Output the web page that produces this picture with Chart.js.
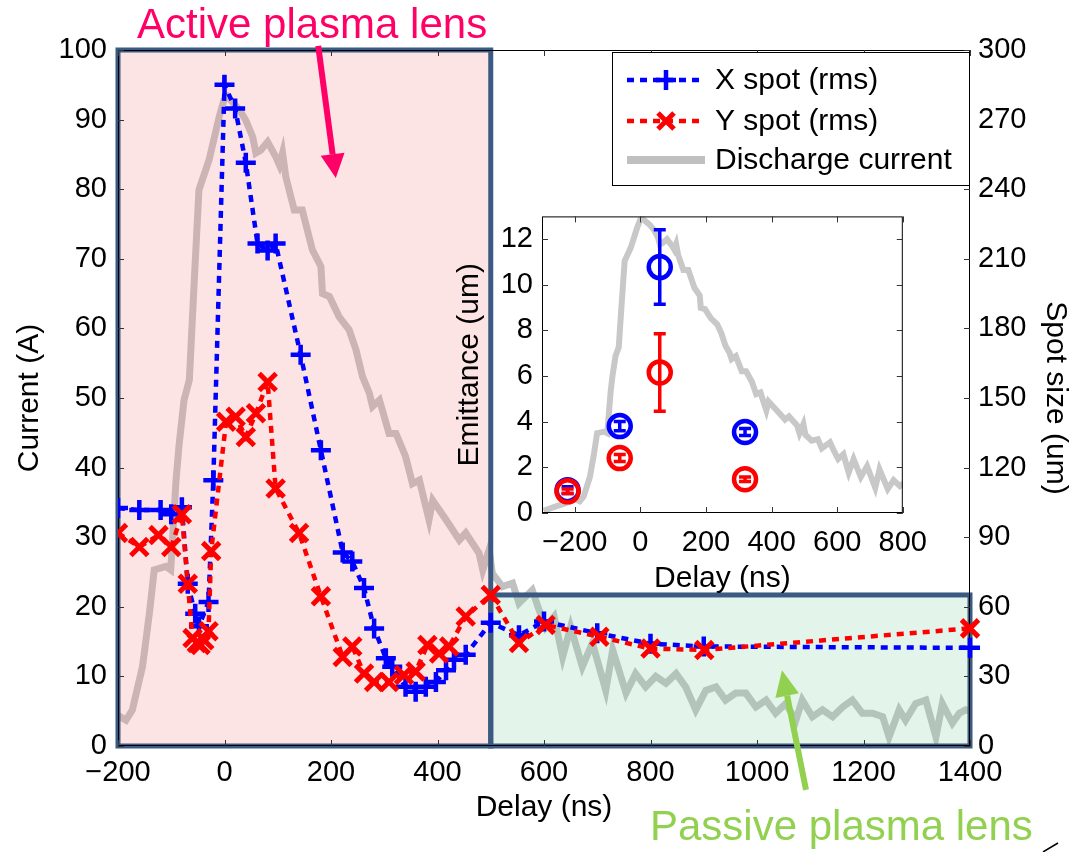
<!DOCTYPE html>
<html>
<head>
<meta charset="utf-8">
<title>Plasma lens delay scan</title>
<script src="https://cdn.jsdelivr.net/npm/chart.js@4.4.1/dist/chart.umd.min.js"></script>
<style>
  body { margin: 0; background: #fff; }
  #wrap { position: relative; width: 1075px; height: 852px; }
  #main { position: absolute; left: 0; top: 0; }
  #inset { position: absolute; left: 420px; top: 190px; }
</style>
</head>
<body>
<div id="wrap">
  <canvas id="main" width="1075" height="852"></canvas>
  <canvas id="inset" width="520" height="410"></canvas>
</div>
<script>
// discharge current trace (ns, A)
const currentDelay = [-295, -260, -230, -200, -185, -173, -154, -141, -132, -110, -101, -91, -85, -76, -66, -57, -48, -29, -10, -1,
  6, 28, 40, 53, 59, 68, 81, 96, 103, 109, 115, 131, 146, 165, 181, 184, 197, 215, 234, 247,
  259, 272, 278, 291, 309, 322, 340, 353, 366, 384, 391, 416, 441, 453, 478, 485, 497, 503, 522, 541,
  553, 578, 591, 603, 619, 635, 650, 672, 691, 716, 729, 754, 772, 791, 810, 829, 848, 866, 885, 904,
  923, 941, 960, 979, 998, 1017, 1035, 1054, 1073, 1085, 1104, 1123, 1142, 1161, 1179, 1198, 1217, 1236, 1248, 1267,
  1279, 1298, 1317, 1336, 1348, 1367, 1380, 1392, 1405];
const currentAmps = [0.7, 2.0, 3.0, 4.4, 3.7, 5.2, 11.4, 19.1, 25.3, 25.8, 25.3, 38.2, 43.5, 49.7, 52.6, 66.5, 79.9, 84.2, 90.4, 92.8,
  93.3, 91.4, 89.9, 87.5, 85.2, 85.6, 86.8, 84.7, 83.5, 85.2, 81.8, 77.0, 77.0, 71.3, 68.9, 65.0, 64.6, 61.7, 59.8, 56.9,
  53.1, 50.7, 48.8, 49.7, 44.9, 44.9, 41.6, 37.7, 38.2, 32.5, 35.3, 32.5, 29.6, 30.6, 27.7, 25.3, 28.2, 24.8, 22.9, 23.4,
  20.5, 22.4, 19.5, 17.1, 18.6, 12.8, 17.1, 11.4, 14.8, 8.0, 13.8, 7.6, 10.4, 8.5, 10.0, 9.0, 10.4, 8.5, 5.2, 8.0,
  8.5, 6.6, 7.6, 7.6, 5.6, 6.6, 4.7, 6.1, 3.7, 6.6, 4.2, 5.2, 4.2, 5.6, 6.6, 4.7, 4.7, 4.2, 1.3, 5.2,
  3.7, 6.1, 6.6, 1.3, 6.1, 3.3, 4.7, 5.2, 4.9];

// rms spot sizes (ns, um)
const xSpotDelay = [-200, -160, -120, -100, -80, -69, -55, -48, -30, -21, 0, 20, 40, 62, 81, 96, 143, 181, 222, 240,
  262, 281, 303, 315, 340, 359, 378, 397, 416, 431, 453, 500, 553, 600, 700, 800, 900, 1400];
const xSpotUm = [102.6, 101.7, 101.7, 99.9, 102.9, 69.9, 57, 51.6, 62.1, 114.6, 285, 274.8, 251.4, 216.6, 213.6, 216.6, 168.6, 127.5, 83.4, 79.5,
  68.1, 50.7, 37.8, 34.2, 25.5, 23.4, 25.5, 27.6, 32.7, 37.2, 39.3, 53.1, 47.7, 53.7, 48.6, 44.1, 42.9, 42.3];
const ySpotDelay = [-200, -160, -124, -100, -80, -69, -60, -52, -45, -38, -30, -25, 3, 21, 40, 59, 81, 96, 140, 181,
  222, 240, 262, 281, 309, 337, 359, 381, 403, 422, 453, 500, 553, 603, 704, 800, 901, 1400];
const ySpotUm = [91.8, 85.8, 90.9, 85.8, 99.9, 69.9, 46.5, 44.4, 43.5, 45.6, 49.5, 84, 139.8, 141.9, 133.2, 143.4, 156.9, 111, 91.8, 64.5,
  38.4, 42.9, 31.2, 27.6, 27.6, 30.6, 32.1, 43.5, 39.9, 42.9, 55.8, 65.1, 44.4, 52.2, 47.1, 42, 41.4, 50.7];

// inset: emittance (ns, um)
const emitDelay = [-222, -63, 59, 319];
const emitX = [1.0, 3.81, 10.78, 3.55];
const emitXErr = [0.15, 0.2, 1.63, 0.15];
const emitY = [0.95, 2.41, 6.16, 1.48];
const emitYErr = [0.1, 0.15, 1.7, 0.1];

// ticks
const delayTicks = [-200, 0, 200, 400, 600, 800, 1000, 1200, 1400];
const currentTicks = [0, 10, 20, 30, 40, 50, 60, 70, 80, 90, 100];
const spotTicks = [0, 30, 60, 90, 120, 150, 180, 210, 240, 270, 300];
const insetDelayTicks = [-200, 0, 200, 400, 600, 800];
const emitTicks = [0, 2, 4, 6, 8, 10, 12];

// lens regions (ns, A)
const activeRange = [-200, 500];
const passiveRange = [500, 1400];
const passiveTop = 21.7;

Chart.defaults.font.family = '"Liberation Sans", Arial, Helvetica, sans-serif';
Chart.defaults.color = "#000";
const FONT = 29;

const zip = (xs, ys) => xs.map((x, i) => ({ x, y: ys[i] }));
const minusFmt = v => (v < 0 ? "\u2212" + Math.abs(v) : String(v));
const setTicks = list => scale => { scale.ticks = list.map(v => ({ value: v })); };

function drawFrame(chart, xId, leftId, rightId, len) {
  const { ctx, chartArea: a, scales } = chart;
  ctx.save();
  ctx.strokeStyle = "#000";
  ctx.lineWidth = 1;
  ctx.strokeRect(a.left + 0.5, a.top + 0.5, a.right - a.left - 1, a.bottom - a.top - 1);
  ctx.strokeStyle = "#333";
  ctx.beginPath();
  scales[xId].ticks.forEach(t => {
    const px = Math.round(scales[xId].getPixelForValue(t.value)) + 0.5;
    ctx.moveTo(px, a.bottom); ctx.lineTo(px, a.bottom - len);
    ctx.moveTo(px, a.top); ctx.lineTo(px, a.top + len);
  });
  scales[leftId].ticks.forEach(t => {
    const py = Math.round(scales[leftId].getPixelForValue(t.value)) + 0.5;
    ctx.moveTo(a.left, py); ctx.lineTo(a.left + len, py);
  });
  scales[rightId].ticks.forEach(t => {
    const py = Math.round(scales[rightId].getPixelForValue(t.value)) + 0.5;
    ctx.moveTo(a.right, py); ctx.lineTo(a.right - len, py);
  });
  ctx.stroke();
  ctx.restore();
}

function arrow(ctx, x1, y1, x2, y2, color, w, headL, headW) {
  const ang = Math.atan2(y2 - y1, x2 - x1);
  const bx = x2 - headL * Math.cos(ang), by = y2 - headL * Math.sin(ang);
  ctx.save();
  ctx.strokeStyle = color;
  ctx.fillStyle = color;
  ctx.lineWidth = w;
  ctx.beginPath(); ctx.moveTo(x1, y1); ctx.lineTo(bx, by); ctx.stroke();
  ctx.beginPath();
  ctx.moveTo(x2, y2);
  ctx.lineTo(bx + headW / 2 * Math.sin(ang), by - headW / 2 * Math.cos(ang));
  ctx.lineTo(bx - headW / 2 * Math.sin(ang), by + headW / 2 * Math.cos(ang));
  ctx.closePath(); ctx.fill();
  ctx.restore();
}

const mainDecor = {
  id: "mainDecor",
  afterDatasetDraw(chart, args) {
    if (args.index !== 0) return;
    const { ctx, scales: { x, y } } = chart;
    drawFrame(chart, "x", "y", "y2", 0);
    const ax0 = x.getPixelForValue(activeRange[0]), ax1 = x.getPixelForValue(activeRange[1]);
    const px0 = x.getPixelForValue(passiveRange[0]), px1 = x.getPixelForValue(passiveRange[1]);
    const top = y.getPixelForValue(100), bot = y.getPixelForValue(0), ptop = y.getPixelForValue(passiveTop);
    ctx.save();
    ctx.fillStyle = "rgba(247,143,143,0.24)";
    ctx.fillRect(ax0, top, ax1 - ax0, bot - top);
    ctx.fillStyle = "rgba(138,209,168,0.24)";
    ctx.fillRect(px0, ptop, px1 - px0, bot - ptop);
    ctx.strokeStyle = "#3b5a82";
    ctx.lineWidth = 5;
    ctx.strokeRect(ax0, top, ax1 - ax0, bot - top);
    ctx.strokeRect(px0, ptop, px1 - px0, bot - ptop);
    ctx.restore();
    drawFrame(chart, "x", "y", "y2", 6);
  },
  afterDraw(chart) {
    const { ctx, scales: { x, y } } = chart;
    const ds = chart.data.datasets;
    // legend box
    ctx.save();
    ctx.fillStyle = "#fff";
    ctx.fillRect(612, 52, 358, 134);
    ctx.strokeStyle = "#000";
    ctx.lineWidth = 1;
    ctx.strokeRect(612.5, 52.5, 357, 133);
    const rows = [[1, 80], [2, 121], [0, 160]];
    rows.forEach(([i, ry]) => {
      const d = ds[i];
      ctx.strokeStyle = d.borderColor;
      ctx.lineWidth = i === 0 ? 8 : d.borderWidth;
      ctx.setLineDash(i === 0 ? [] : d.borderDash);
      ctx.beginPath(); ctx.moveTo(627, ry); ctx.lineTo(705, ry); ctx.stroke();
      ctx.setLineDash([]);
      if (i === 1) {
        ctx.lineWidth = 4.5;
        ctx.beginPath();
        ctx.moveTo(656, ry); ctx.lineTo(676, ry);
        ctx.moveTo(666, ry - 10); ctx.lineTo(666, ry + 10);
        ctx.stroke();
      } else if (i === 2) {
        ctx.lineWidth = 5;
        ctx.beginPath();
        ctx.moveTo(658, ry - 8); ctx.lineTo(674, ry + 8);
        ctx.moveTo(658, ry + 8); ctx.lineTo(674, ry - 8);
        ctx.stroke();
      }
      ctx.fillStyle = "#000";
      ctx.font = '30px "Liberation Sans", Arial, sans-serif';
      ctx.textBaseline = "middle";
      ctx.fillText(d.label, 715, ry + 1);
    });
    // annotations
    arrow(ctx, x.getPixelForValue(176), y.getPixelForValue(100.6), x.getPixelForValue(209), y.getPixelForValue(81.6), "#ff0066", 6, 24, 24);
    arrow(ctx, x.getPixelForValue(1092), y.getPixelForValue(-6.3), x.getPixelForValue(1047), y.getPixelForValue(10.9), "#92d050", 6, 26, 24);
    ctx.font = '42px "Liberation Sans", Arial, sans-serif';
    ctx.textBaseline = "alphabetic";
    ctx.fillStyle = "#ff0066";
    ctx.fillText("Active plasma lens", 137, 38);
    ctx.fillStyle = "#92d050";
    ctx.fillText("Passive plasma lens", 650, 840);
    ctx.strokeStyle = "#000";
    ctx.lineWidth = 1.5;
    ctx.beginPath(); ctx.moveTo(1043, 852); ctx.lineTo(1058, 843); ctx.stroke();
    ctx.restore();
  }
};

new Chart(document.getElementById("main"), {
  type: "line",
  data: {
    datasets: [
      {
        label: "Discharge current",
        data: zip(currentDelay, currentAmps),
        yAxisID: "y",
        borderColor: "#c0c0c0",
        borderWidth: 7,
        pointRadius: 0,
        order: 2,
        clip: 0,
      },
      {
        label: "X spot (rms)",
        data: zip(xSpotDelay, xSpotUm),
        yAxisID: "y2",
        borderColor: "#0000ff",
        borderWidth: 4.5,
        borderDash: [7, 6],
        pointStyle: "cross",
        pointRadius: 10,
        pointBorderWidth: 4.5,
        pointBorderColor: "#0000ff",
        order: 1,
        clip: { left: 0, top: 12, right: 14, bottom: 12 },
      },
      {
        label: "Y spot (rms)",
        data: zip(ySpotDelay, ySpotUm),
        yAxisID: "y2",
        borderColor: "#ff0000",
        borderWidth: 4.5,
        borderDash: [7, 6],
        pointStyle: "crossRot",
        pointRadius: 12,
        pointBorderWidth: 5,
        pointBorderColor: "#ff0000",
        order: 0,
        clip: { left: 0, top: 12, right: 14, bottom: 12 },
      },
    ],
  },
  options: {
    responsive: false,
    animation: false,
    events: [],
    layout: { padding: { top: 50, left: 0, right: 0, bottom: 0 } },
    elements: { line: { tension: 0 } },
    plugins: { legend: { display: false }, tooltip: { enabled: false } },
    scales: {
      x: {
        type: "linear",
        min: -200,
        max: 1400,
        afterBuildTicks: setTicks(delayTicks),
        afterFit: s => { s.height = 106; },
        ticks: { callback: minusFmt, font: { size: FONT }, padding: 10, maxRotation: 0, autoSkip: false },
        grid: { display: false, drawTicks: false },
        border: { display: false },
        title: { display: true, text: "Delay (ns)", font: { size: 30 }, padding: { top: 0, bottom: 26 } },
      },
      y: {
        position: "left",
        min: 0,
        max: 100,
        afterBuildTicks: setTicks(currentTicks),
        afterFit: s => { s.width = 118; },
        ticks: { font: { size: FONT }, padding: 11 },
        grid: { display: false, drawTicks: false },
        border: { display: false },
        title: { display: true, text: "Current (A)", font: { size: 30 }, padding: { top: 12, bottom: 0 } },
      },
      y2: {
        position: "right",
        min: 0,
        max: 300,
        afterBuildTicks: setTicks(spotTicks),
        afterFit: s => { s.width = 105; },
        ticks: { font: { size: FONT }, padding: 8 },
        grid: { display: false, drawTicks: false },
        border: { display: false },
        title: { display: true, text: "Spot size (um)", font: { size: 30 }, padding: { top: 2, bottom: 0 } },
      },
    },
  },
  plugins: [mainDecor],
});

// ---- inset ----
const insetDecor = {
  id: "insetDecor",
  beforeDatasetsDraw(chart) {
    const { ctx, chartArea: a } = chart;
    ctx.save();
    ctx.fillStyle = "#fff";
    ctx.fillRect(a.left, a.top, a.right - a.left, a.bottom - a.top);
    ctx.restore();
  },
  afterDatasetsDraw(chart) {
    const { ctx, scales: { x, y } } = chart;
    const bars = [[emitX, emitXErr, "#0000ff"], [emitY, emitYErr, "#ff0000"]];
    ctx.save();
    ctx.lineWidth = 3.5;
    bars.forEach(([vals, errs, color]) => {
      ctx.strokeStyle = color;
      ctx.beginPath();
      emitDelay.forEach((d, i) => {
        const px = x.getPixelForValue(d);
        const hi = y.getPixelForValue(vals[i] + errs[i]);
        const lo = y.getPixelForValue(vals[i] - errs[i]);
        ctx.moveTo(px, hi); ctx.lineTo(px, lo);
        ctx.moveTo(px - 6, hi); ctx.lineTo(px + 6, hi);
        ctx.moveTo(px - 6, lo); ctx.lineTo(px + 6, lo);
      });
      ctx.stroke();
    });
    ctx.restore();
    drawFrame(chart, "x", "y", "y", 6);
  }
};

new Chart(document.getElementById("inset"), {
  type: "line",
  data: {
    datasets: [
      {
        label: "Discharge current",
        data: zip(currentDelay, currentAmps),
        yAxisID: "yc",
        borderColor: "#c8c8c8",
        borderWidth: 6,
        pointRadius: 0,
        order: 2,
        clip: 0,
      },
      {
        label: "X emittance",
        data: zip(emitDelay, emitX),
        yAxisID: "y",
        showLine: false,
        pointStyle: "circle",
        pointRadius: 11,
        pointBorderWidth: 4.5,
        pointBorderColor: "#0000ff",
        pointBackgroundColor: "rgba(255,255,255,0)",
        order: 1,
        clip: false,
      },
      {
        label: "Y emittance",
        data: zip(emitDelay, emitY),
        yAxisID: "y",
        showLine: false,
        pointStyle: "circle",
        pointRadius: 11,
        pointBorderWidth: 4.5,
        pointBorderColor: "#ff0000",
        pointBackgroundColor: "rgba(255,255,255,0)",
        order: 0,
        clip: false,
      },
    ],
  },
  options: {
    responsive: false,
    animation: false,
    events: [],
    layout: { padding: { top: 21, left: 0, right: 12, bottom: 0 } },
    elements: { line: { tension: 0 } },
    plugins: { legend: { display: false }, tooltip: { enabled: false } },
    scales: {
      x: {
        type: "linear",
        min: -300,
        max: 800,
        afterBuildTicks: setTicks(insetDelayTicks),
        afterFit: s => { s.height = 87; },
        ticks: { callback: minusFmt, font: { size: FONT }, padding: 13, maxRotation: 0, autoSkip: false },
        grid: { display: false, drawTicks: false },
        border: { display: false },
        title: { display: true, text: "Delay (ns)", font: { size: 30 }, padding: { top: 0, bottom: 3 } },
      },
      y: {
        position: "left",
        min: 0,
        max: 13,
        afterBuildTicks: setTicks(emitTicks),
        afterFit: s => { s.width = 122; },
        ticks: { font: { size: FONT }, padding: 9 },
        grid: { display: false, drawTicks: false },
        border: { display: false },
        title: { display: true, text: "Emittance (um)", font: { size: 30 }, padding: { top: 32, bottom: 0 } },
      },
      yc: { display: false, min: 0, max: 94 },
    },
  },
  plugins: [insetDecor],
});
</script>
</body>
</html>
